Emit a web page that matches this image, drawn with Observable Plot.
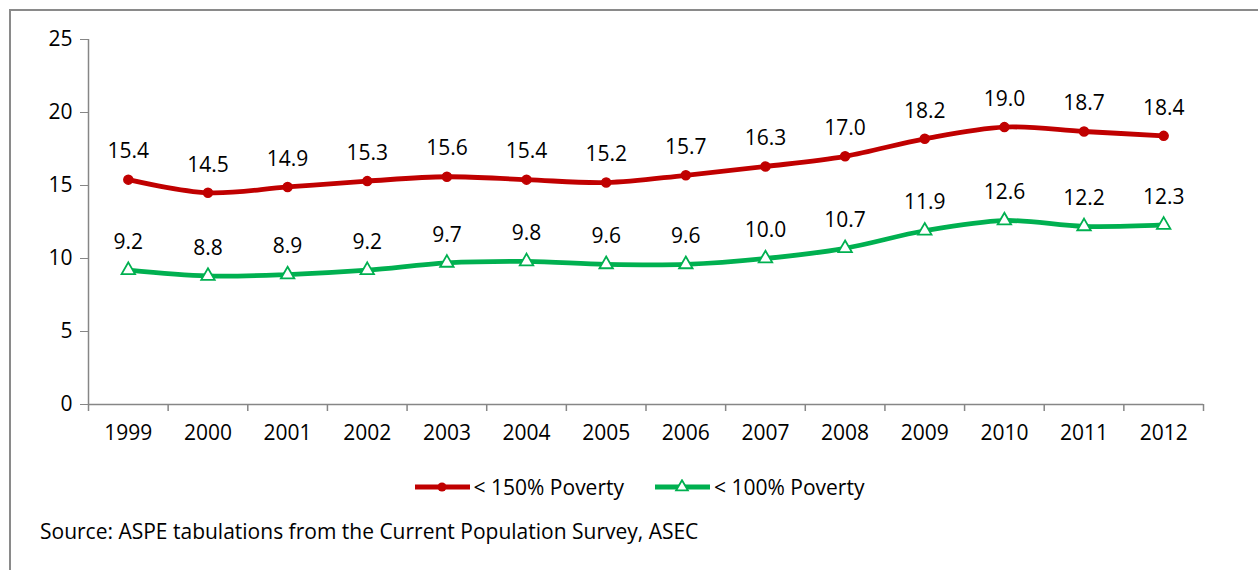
<!DOCTYPE html>
<html>
<head>
<meta charset="utf-8">
<script src="https://cdn.jsdelivr.net/npm/d3@7"></script>
<script src="https://cdn.jsdelivr.net/npm/@observablehq/plot@0.6"></script>
<style>
  html, body { margin: 0; padding: 0; background: #fff; }
  body { width: 1258px; height: 570px; overflow: hidden; position: relative; font-family: "Open Sans", sans-serif; }
  #frame { position: absolute; left: 9px; top: 9px; width: 1300px; height: 620px; border: 2px solid #8a8a8a; box-sizing: border-box; }
  #chart { position: absolute; left: 0; top: 0; }
  #legend { position: absolute; left: 10px; top: 473px; width: 1258px; display: flex; justify-content: center; gap: 30px; font-size: 21px; color: #000; }
  .item { display: flex; align-items: center; }
  #caption { position: absolute; left: 40px; top: 517px; font-size: 21px; color: #000; }
</style>
</head>
<body>
<div id="frame"></div>
<div id="chart"></div>
<div id="legend"></div>
<div id="caption">Source: ASPE tabulations from the Current Population Survey, ASEC</div>
<script>
const years = [1999, 2000, 2001, 2002, 2003, 2004, 2005, 2006, 2007, 2008, 2009, 2010, 2011, 2012];
const poverty150 = [15.4, 14.5, 14.9, 15.3, 15.6, 15.4, 15.2, 15.7, 16.3, 17.0, 18.2, 19.0, 18.7, 18.4];
const poverty100 = [9.2, 8.8, 8.9, 9.2, 9.7, 9.8, 9.6, 9.6, 10.0, 10.7, 11.9, 12.6, 12.2, 12.3];
const seriesNames = ["< 150% Poverty", "< 100% Poverty"];
const yTicks = [0, 5, 10, 15, 20, 25];

const red = "#C00000";
const green = "#00B050";

const d150 = years.map((y, i) => ({year: y, value: poverty150[i]}));
const d100 = years.map((y, i) => ({year: y, value: poverty100[i]}));
const boundaries = years.map(y => y - 0.5).concat([years[years.length - 1] + 0.5]);

const plot = Plot.plot({
  width: 1258,
  height: 450,
  marginLeft: 88,
  marginRight: 55,
  marginTop: 39,
  marginBottom: 46,
  style: {fontFamily: "Open Sans, sans-serif", fontSize: "21px", color: "#000", background: "transparent"},
  x: {domain: [years[0] - 0.5, years[years.length - 1] + 0.5], label: null},
  y: {domain: [0, 25], label: null},
  marks: [
    Plot.axisY({ticks: yTicks, tickSize: 8, tickPadding: 8, stroke: "#868686", strokeOpacity: 1, fill: "#000", fontSize: 21, label: null}),
    Plot.ruleX([years[0] - 0.5], {stroke: "#868686", strokeWidth: 1.5}),
    Plot.axisX({ticks: boundaries, tickSize: 7, tickFormat: () => "", stroke: "#868686", strokeOpacity: 1, strokeWidth: 1.5, label: null}),
    Plot.axisX({ticks: years, tickSize: 0, tickPadding: 21, tickFormat: d => String(d), fill: "#000", fontSize: 21, label: null}),
    Plot.ruleY([0], {stroke: "#868686", strokeWidth: 1.5}),
    Plot.line(d150, {x: "year", y: "value", stroke: red, strokeWidth: 4.8, curve: "catmull-rom"}),
    Plot.dot(d150, {x: "year", y: "value", fill: red, stroke: red, r: 4.5, symbol: "circle"}),
    Plot.line(d100, {x: "year", y: "value", stroke: green, strokeWidth: 4.8, curve: "catmull-rom"}),
    Plot.dot(d100, {x: "year", y: "value", fill: "white", stroke: green, strokeWidth: 1.8, r: 5, symbol: "triangle"}),
    Plot.text(d150, {x: "year", y: "value", text: d => d.value.toFixed(1), dy: -28, fill: "#000", fontSize: 21}),
    Plot.text(d100, {x: "year", y: "value", text: d => d.value.toFixed(1), dy: -28, fill: "#000", fontSize: 21})
  ]
});
document.getElementById("chart").appendChild(plot);

// legend
const legend = document.getElementById("legend");
const sw = (color, kind) => {
  const ns = "http://www.w3.org/2000/svg";
  const s = document.createElementNS(ns, "svg");
  s.setAttribute("width", 58); s.setAttribute("height", 16);
  const l = document.createElementNS(ns, "line");
  l.setAttribute("x1", 1); l.setAttribute("x2", 56); l.setAttribute("y1", 8); l.setAttribute("y2", 8);
  l.setAttribute("stroke", color); l.setAttribute("stroke-width", 4.8);
  s.appendChild(l);
  if (kind === "circle") {
    const c = document.createElementNS(ns, "circle");
    c.setAttribute("cx", 28); c.setAttribute("cy", 8); c.setAttribute("r", 4.5); c.setAttribute("fill", color);
    s.appendChild(c);
  } else {
    const p = document.createElementNS(ns, "path");
    p.setAttribute("d", d3.symbol(d3.symbolTriangle, 60)());
    p.setAttribute("transform", "translate(28,8)");
    p.setAttribute("fill", "white"); p.setAttribute("stroke", color); p.setAttribute("stroke-width", 1.8);
    s.appendChild(p);
  }
  return s;
};
[[seriesNames[0], red, "circle"], [seriesNames[1], green, "triangle"]].forEach(([name, color, kind]) => {
  const it = document.createElement("div");
  it.className = "item";
  it.appendChild(sw(color, kind));
  const t = document.createElement("span");
  t.textContent = name;
  t.style.marginLeft = "2px";
  it.appendChild(t);
  legend.appendChild(it);
});
</script>
</body>
</html>
